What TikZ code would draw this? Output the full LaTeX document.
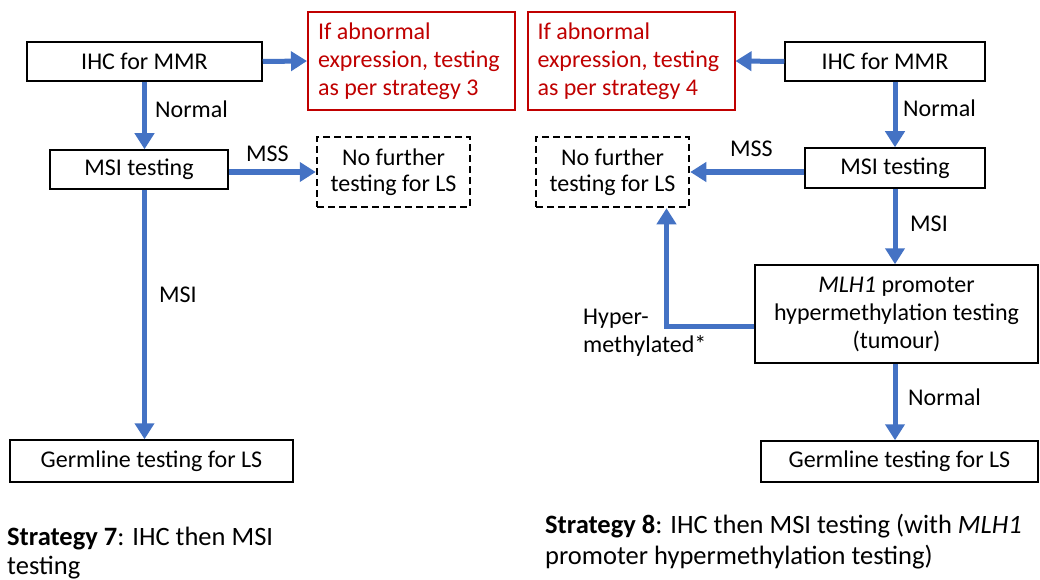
\documentclass[tikz,border=0pt]{standalone}
\usepackage{fontspec}
\setmainfont{Carlito}
\usetikzlibrary{arrows.meta}
\definecolor{flowblue}{RGB}{68,114,196}
\definecolor{alertred}{RGB}{192,0,0}

\begin{document}
\begin{tikzpicture}[x=1pt,y=-1pt,
  every node/.style={font=\fontsize{24}{28}\selectfont, inner sep=0pt},
  plainbox/.style={draw=black, line width=1.5pt, align=center},
  alertbox/.style={draw=alertred, line width=2pt, text=alertred, align=flush left,
    inner xsep=10pt, text width=187pt, minimum height=98pt},
  stopbox/.style={draw=black, line width=2.5pt, dash pattern=on 7pt off 4pt,
    align=center, minimum width=153pt, minimum height=70pt,
    font=\fontsize{24}{26}\selectfont},
  flow/.style={draw=flowblue, line width=5pt,
    -{Triangle[width=19pt,length=16pt]}},
  lbl/.style={anchor=base west},
  caption/.style={anchor=base west, font=\fontsize{26.5}{30}\selectfont},
]
\useasboundingbox (0,0) rectangle (1040,580);
\fill[white] (0,0) rectangle (1040,580);

% ---- Strategy 7 ----
\node[plainbox, minimum width=235pt, minimum height=39pt] (ihcL) at (144.5,61.5) {IHC for MMR};
\node[alertbox] (red3) at (411.5,61) {If abnormal\\expression, testing\\as per strategy 3};
\node[plainbox, minimum width=178pt, minimum height=39pt] (msiL) at (139,169.5) {MSI testing};
\node[stopbox] (nofL) at (393.5,172) {No further\\testing for LS};
\node[plainbox, minimum width=283pt, minimum height=42pt] (germL) at (151.5,461) {Germline testing for LS};

\draw[flow] (ihcL.east) -- (red3.west);
\draw[flow] (ihcL.south) -- (ihcL.south |- msiL.north);
\draw[flow] (msiL.east |- nofL.west) -- (nofL.west);
\draw[flow] (ihcL.south |- msiL.south) -- (ihcL.south |- germL.north);

\node[lbl] (nL1) at (155,118) {Normal};
\node[lbl] (sL1) at (246,162) {MSS};
\node[lbl] (mL1) at (159,302) {MSI};

\node[caption] (cap7a) at (7,545) {\textbf{Strategy 7}: IHC then MSI};
\node[caption] (cap7b) at (7,574) {testing};

% ---- Strategy 8 ----
\node[alertbox] (red4) at (631,61) {If abnormal\\expression, testing\\as per strategy 4};
\node[plainbox, minimum width=200pt, minimum height=39pt] (ihcR) at (885,61.5) {IHC for MMR};
\node[plainbox, minimum width=180pt, minimum height=40pt] (msiR) at (895,168) {MSI testing};
\node[stopbox] (nofR) at (612.5,172) {No further\\testing for LS};
\node[plainbox, minimum width=283pt, minimum height=98pt] (mlh) at (896.5,314)
  {\textit{MLH1} promoter\\hypermethylation testing\\(tumour)};
\node[plainbox, minimum width=277pt, minimum height=41pt] (germR) at (899.5,461.5) {Germline testing for LS};

\draw[flow] (ihcR.west) -- (red4.east);
\draw[flow] (msiR.north |- ihcR.south) -- (msiR.north);
\draw[flow] (msiR.west |- nofR.east) -- (nofR.east);
\draw[flow] (msiR.south) -- (msiR.south |- mlh.north);
\draw[flow] ([yshift=-12pt]mlh.west) -| ([xshift=54pt]nofR.south);
\draw[flow] (msiR.south |- mlh.south) -- (msiR.south |- germR.north);

\node[lbl] (nR1) at (903,117) {Normal};
\node[lbl] (sR1) at (730,157) {MSS};
\node[lbl] (mR1) at (910,231) {MSI};
\node[anchor=base west, align=left] (hyp) at (583,352) {Hyper-\\methylated*};
\node[lbl] (nR2) at (908,405) {Normal};

\node[caption] (cap8a) at (545,533) {\textbf{Strategy 8}: IHC then MSI testing (with \textit{MLH1}};
\node[caption] (cap8b) at (545,564) {promoter hypermethylation testing)};
\end{tikzpicture}
\end{document}
